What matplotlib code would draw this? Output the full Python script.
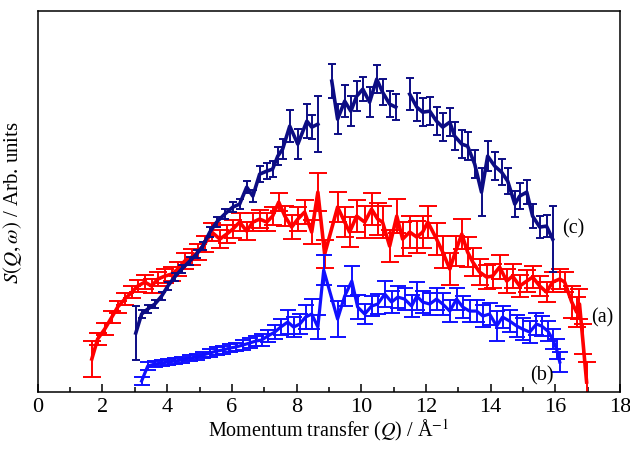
import numpy as np
import matplotlib
matplotlib.use("Agg")
import matplotlib.pyplot as plt
from matplotlib.ticker import MultipleLocator

nan = float("nan")

# (a) red series
q_a = [1.67, 1.85, 2.07, 2.29, 2.47, 2.69, 2.91, 3.09, 3.31, 3.52, 3.71, 3.93, 4.14, 4.33, 4.54,
       4.76, 4.95, 5.16, 5.38, 5.63, 5.84, 6.03, 6.24, 6.46, 6.65, 6.86, 7.08, 7.26, 7.45, 7.64,
       7.85, 8.04, 8.25, 8.47, 8.66, 8.87, 9.27, 9.49, 9.64, 9.86, 10.11, 10.32, 10.51, 10.66,
       10.88, 11.10, 11.28, 11.50, 11.72, 11.90, 12.06, 12.33, 12.52, 12.74, 12.92, 13.11, 13.29,
       13.45, 13.66, 13.88, 14.06, 14.28, 14.50, 14.68, 14.90, 15.12, 15.30, 15.52, 15.73, 15.92,
       16.14, 16.29, 16.51, 16.66, 16.75, 16.85, 16.97]
s_a = [3.3, 5.3, 6.3, 7.5, 8.5, 9.3, 10.0, 10.6, 11.0, 10.6, 11.3, 11.6, 11.8, 12.3, 13.1,
       13.5, 14.0, 14.8, 16.0, 15.3, 15.8, 16.3, 17.0, 16.1, 17.0, 17.3, 17.0, 17.6, 19.0, 17.6,
       16.5, 17.3, 18.0, 16.0, 20.0, 13.8, 18.5, 17.0, 16.0, 17.6, 17.0, 18.3, 17.3, 17.0,
       14.6, 17.6, 15.3, 16.0, 15.5, 16.0, 17.0, 15.3, 14.0, 12.3, 14.1, 15.8, 14.0,
       13.0, 12.0, 11.5, 11.6, 12.5, 11.1, 11.6, 10.6, 11.1, 11.5, 10.6, 10.0, 11.0,
       11.3, 11.0, 9.0, 8.0, 8.8, 5.3, 1.0]
e_a = [1.8, 0.6, 0.6, 0.6, 0.6, 0.6, 0.6, 0.6, 0.7, 0.7, 0.7, 0.7, 0.7, 0.7, 0.8,
       0.8, 0.8, 0.8, 0.9, 0.9, 0.9, 0.9, 0.9, 0.9, 0.9, 0.9, 0.9, 0.9, 0.9, 1.0,
       1.2, 1.2, 1.2, 1.2, 1.9, 1.4, 1.5, 1.5, 1.5, 1.6, 1.6, 1.6, 1.6, 1.6,
       1.6, 1.7, 1.7, 1.6, 1.6, 1.6, 1.6, 1.6, 1.6, 1.6, 1.5, 1.5, 1.5,
       1.4, 1.3, 1.2, 1.2, 1.2, 1.2, 1.2, 1.1, 1.1, 1.1, 1.0, 1.0, 1.0,
       1.0, 1.0, 1.6, 1.5, 1.5, 1.5, 2.0]

# (c) navy series (gaps between segments)
q_c = [3.03, 3.21, 3.40, 3.62, 3.83, 4.02, 4.23, 4.45, 4.70, 4.91, 5.10, 5.32, 5.53, 5.78,
       6.03, 6.24, 6.46, 6.65, 6.86, 7.08, 7.26, 7.42, 7.57, 7.79, 8.04, 8.32, 8.47, 8.66, 8.80,
       9.09, 9.27, 9.49, 9.68, 9.86, 10.05, 10.26, 10.48, 10.66, 10.88, 11.07, 11.30,
       11.50, 11.72, 11.90, 12.12, 12.33, 12.52, 12.74, 12.89, 13.11, 13.29, 13.51, 13.72,
       13.91, 14.13, 14.34, 14.53, 14.75, 14.90, 15.12, 15.30, 15.52, 15.73, 15.92]
s_c = [5.9, 7.8, 8.3, 8.8, 9.6, 10.6, 11.5, 12.3, 13.1, 13.8, 14.6, 16.0, 17.0, 17.8,
       18.5, 18.8, 20.5, 19.6, 21.8, 22.1, 22.3, 23.6, 24.3, 26.6, 24.8, 27.1, 26.5, 26.8, nan,
       31.1, 27.3, 29.1, 28.1, 29.6, 30.3, 29.0, 31.3, 30.0, 28.8, 28.5, nan,
       29.8, 28.5, 28.0, 28.1, 27.1, 26.5, 27.0, 25.6, 24.8, 24.6, 22.8, 20.0,
       23.6, 22.6, 22.0, 21.1, 18.8, 19.6, 20.0, 17.6, 16.5, 16.6, 15.3]
e_c = [2.7, 0.4, 0.4, 0.4, 0.4, 0.4, 0.4, 0.4, 0.4, 0.4, 0.4, 0.5, 0.5, 0.5,
       0.5, 0.5, 0.6, 0.6, 0.8, 0.8, 0.8, 0.9, 1.0, 1.6, 1.5, 1.7, 1.2, 2.8, nan,
       1.7, 1.5, 1.6, 1.5, 1.5, 1.2, 1.5, 1.4, 1.3, 1.3, 1.3, nan,
       1.6, 1.4, 1.4, 1.4, 1.4, 1.4, 1.4, 1.4, 1.4, 1.4, 1.4, 2.4,
       1.5, 1.4, 1.3, 1.3, 1.3, 1.3, 1.2, 1.2, 1.1, 1.1, 3.3]

# (b) blue series
q_b = [3.21, 3.40, 3.62, 3.83, 4.02, 4.23, 4.45, 4.70, 4.91, 5.10, 5.32, 5.53, 5.72, 5.94,
       6.12, 6.34, 6.55, 6.74, 6.92, 7.11, 7.33, 7.51, 7.73, 7.91, 8.10, 8.28, 8.47, 8.66,
       8.84, 9.27, 9.49, 9.71, 9.89, 10.11, 10.32, 10.51, 10.73, 10.94, 11.13, 11.34, 11.56,
       11.72, 11.90, 12.12, 12.33, 12.52, 12.74, 12.95, 13.14, 13.35, 13.57, 13.76, 13.97,
       14.19, 14.37, 14.59, 14.81, 14.99, 15.21, 15.42, 15.58, 15.77, 15.92, 16.04, 16.14]
s_b = [1.1, 2.6, 2.8, 2.9, 3.0, 3.1, 3.2, 3.4, 3.5, 3.7, 3.9, 4.1, 4.2, 4.4,
       4.5, 4.7, 4.9, 5.1, 5.2, 5.6, 6.0, 6.5, 7.0, 6.5, 6.8, 7.5, 7.8, 6.5,
       12.2, 7.3, 9.6, 11.1, 8.5, 7.8, 8.6, 8.8, 9.8, 9.0, 9.5, 9.3, 8.6,
       9.6, 9.0, 8.8, 9.3, 8.8, 8.1, 9.3, 8.5, 8.1, 8.1, 7.6, 7.8,
       6.6, 7.5, 7.1, 6.6, 6.3, 6.0, 6.8, 6.6, 6.1, 5.3, 4.3, 3.0]
e_b = [0.4, 0.4, 0.3, 0.3, 0.3, 0.3, 0.3, 0.3, 0.3, 0.3, 0.4, 0.4, 0.4, 0.4,
       0.4, 0.5, 0.5, 0.5, 0.6, 0.6, 0.7, 0.8, 1.2, 1.0, 1.0, 1.2, 1.5, 1.2,
       1.5, 1.8, 1.0, 1.5, 1.2, 1.0, 1.0, 1.0, 1.3, 1.1, 1.1, 1.1, 1.1,
       1.4, 1.1, 1.1, 1.1, 1.1, 1.1, 1.1, 1.1, 1.1, 1.1, 1.1, 1.1,
       1.5, 1.1, 1.1, 1.1, 1.1, 1.1, 1.1, 1.0, 1.0, 1.0, 1.0, 1.0]

labels = ["(a)", "(b)", "(c)"]
label_pos = [(17.45, 7.5), (15.6, 1.7), (16.55, 16.4)]

plt.rcParams["font.family"] = ["Liberation Serif", "DejaVu Serif"]
plt.rcParams["mathtext.fontset"] = "stix"

fig = plt.figure(figsize=(6.3, 4.52), dpi=100)
ax = fig.add_axes([0.060, 0.1305, 0.924, 0.8425])

ax.errorbar(q_a, s_a, yerr=e_a, color="#ff0000", lw=2.6, elinewidth=1.4,
            capsize=6.5, capthick=1.4, zorder=2)
ax.errorbar(q_b, s_b, yerr=e_b, color="#1010ff", lw=2.3, elinewidth=1.4,
            capsize=6.0, capthick=1.4, zorder=3)
ax.errorbar(q_c, s_c, yerr=e_c, color="#0c0c84", lw=2.6, elinewidth=1.4,
            capsize=3.0, capthick=1.4, zorder=4)

for lab, (x, y) in zip(labels, label_pos):
    ax.text(x, y, lab, fontsize=14.5, ha="center", va="center", color="black")

ax.set_xlim(0, 18)
ax.set_ylim(0, 38.1)
ax.xaxis.set_major_locator(MultipleLocator(2))
ax.xaxis.set_minor_locator(MultipleLocator(1))
ax.tick_params(axis="x", which="major", direction="in", length=6, width=1.1, labelsize=16)
ax.tick_params(axis="x", which="minor", direction="in", length=3.5, width=1.1)
ax.set_yticks([])
for sp in ax.spines.values():
    sp.set_linewidth(1.1)

ax.set_xlabel("Momentum transfer ($Q$) / Å$^{-1}$", fontsize=14.5, labelpad=0)
ax.set_ylabel("$S(Q,\\omega)$ / Arb. units", fontsize=15, labelpad=10)

fig.savefig("out.png", dpi=100)
